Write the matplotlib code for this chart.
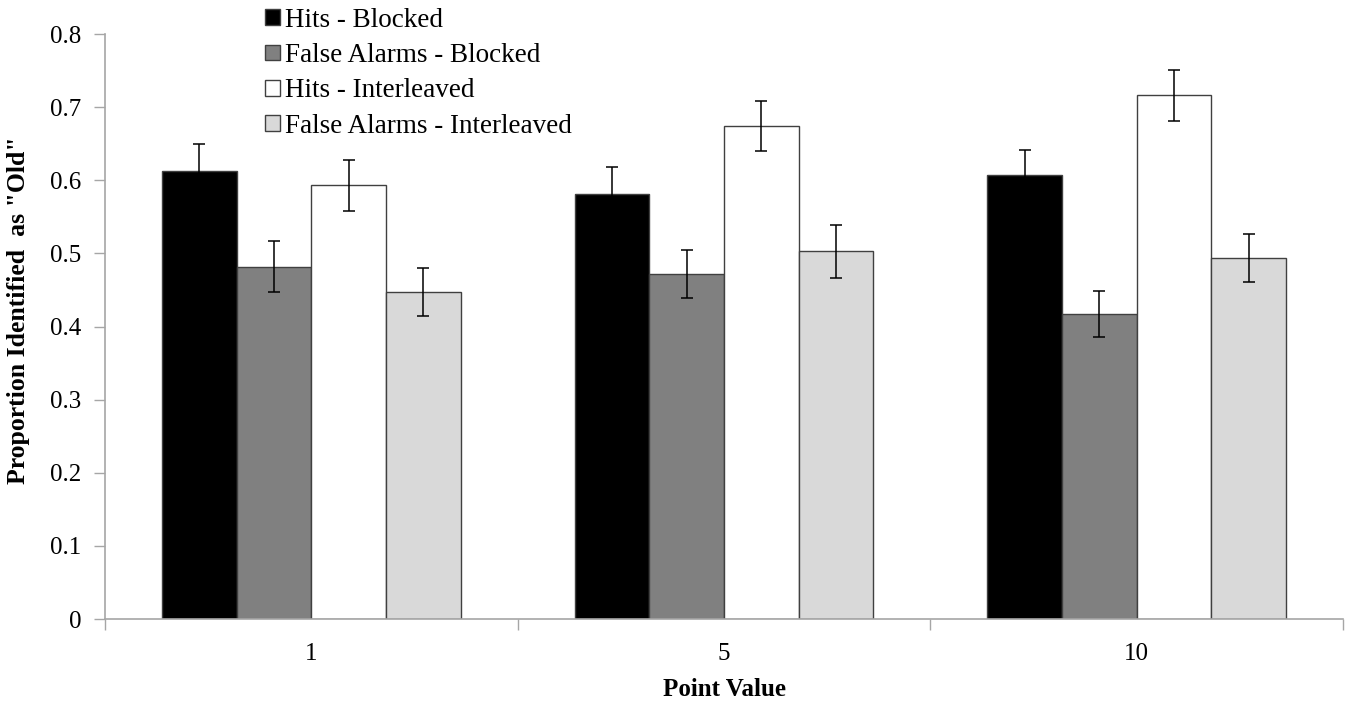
import numpy as np
import matplotlib.pyplot as plt

point_values = ["1", "5", "10"]
series_names = ["Hits - Blocked", "False Alarms - Blocked",
                "Hits - Interleaved", "False Alarms - Interleaved"]
hits_blocked = [0.612, 0.581, 0.607]
fa_blocked = [0.482, 0.472, 0.417]
hits_interleaved = [0.593, 0.674, 0.716]
fa_interleaved = [0.447, 0.503, 0.494]
err_hits_blocked = [0.037, 0.037, 0.035]
err_fa_blocked = [0.035, 0.033, 0.031]
err_hits_interleaved = [0.035, 0.034, 0.035]
err_fa_interleaved = [0.033, 0.036, 0.033]

means = [hits_blocked, fa_blocked, hits_interleaved, fa_interleaved]
errors = [err_hits_blocked, err_fa_blocked, err_hits_interleaved, err_fa_interleaved]
colors = ["#000000", "#808080", "#ffffff", "#d9d9d9"]

plt.rcParams['font.family'] = ['Liberation Serif', 'DejaVu Serif']

fig = plt.figure(figsize=(13.5, 7.04), dpi=100)
ax = fig.add_axes([0.0778, 0.1207, 0.917, 0.831])

x = np.arange(len(point_values))
width = 0.181
offsets = (np.arange(4) - 1.5) * width

handles = []
for i in range(4):
    b = ax.bar(x + offsets[i], means[i], width, color=colors[i],
               edgecolor="#404040", linewidth=1.0, label=series_names[i], zorder=2)
    ax.errorbar(x + offsets[i], means[i], yerr=errors[i], fmt="none",
                ecolor="black", elinewidth=1.1, capsize=4.5, capthick=1.1, zorder=3)
    handles.append(b)

ax.set_xlim(-0.5, 2.5)
ax.set_ylim(0, 0.8)
ax.set_yticks(np.arange(0, 0.81, 0.1))
ax.set_yticklabels(["0"] + ["%.1f" % v for v in np.arange(0.1, 0.81, 0.1)])

# category labels in the middle, ticks between groups
ax.set_xticks(x)
ax.set_xticklabels(point_values)
ax.set_xticks([-0.5, 0.5, 1.5, 2.5], minor=True)
ax.tick_params(axis="x", which="major", length=0, pad=17, labelsize=18)
ax.tick_params(axis="x", which="minor", length=8, color="#a6a6a6", width=1)
ax.tick_params(axis="y", length=8, color="#a6a6a6", width=1, labelsize=18, pad=9)

for side in ["top", "right"]:
    ax.spines[side].set_visible(False)
for side in ["left", "bottom"]:
    ax.spines[side].set_color("#a6a6a6")
    ax.spines[side].set_linewidth(1.2)

ax.set_xlabel("Point Value", fontsize=18, fontweight="bold")
ax.xaxis.set_label_coords(0.5, -0.1)
ax.set_ylabel('Proportion Identified  as "Old"', fontsize=18.5, fontweight="bold")
ax.yaxis.set_label_coords(-0.061, 0.528)

fig.legend(handles=handles, loc="upper left", bbox_to_anchor=(0.1866, 1.008),
           frameon=False, fontsize=19.5, handlelength=0.52, handleheight=0.52,
           handletextpad=0.2, labelspacing=0.38, borderpad=0)

fig.savefig("out.png", dpi=100)
